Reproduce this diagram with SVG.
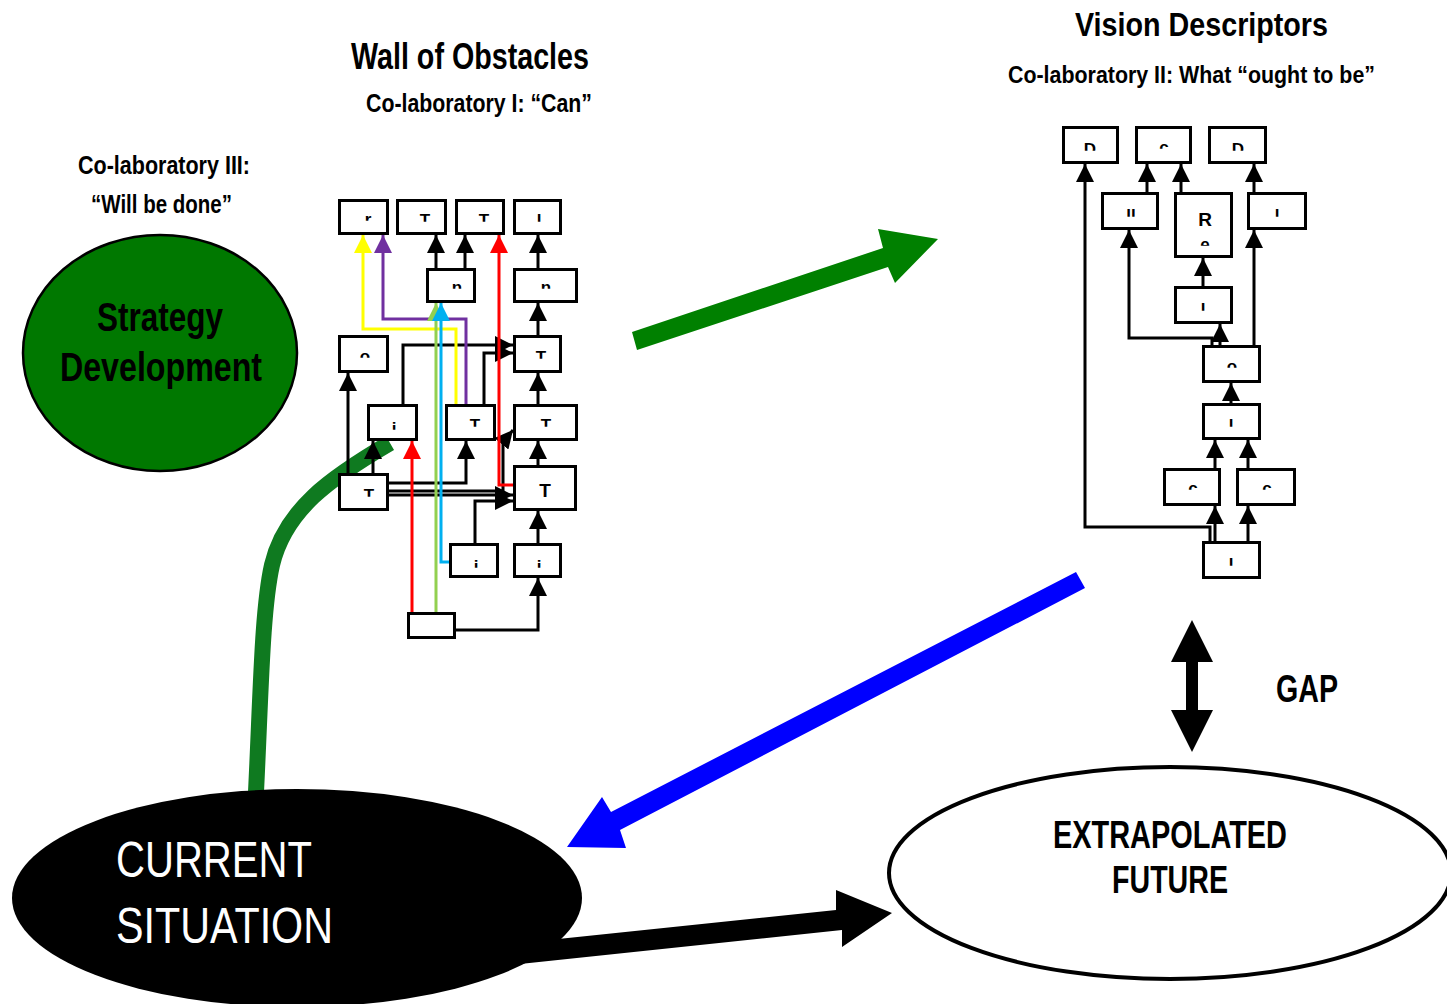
<svg xmlns="http://www.w3.org/2000/svg" width="1447" height="1004" viewBox="0 0 1447 1004">
<style>
.box{fill:#fff;stroke:#000;stroke-width:3}
.e{fill:none;stroke:#000;stroke-width:3;marker-end:url(#ak)}
.mk{font-family:"Liberation Sans",Arial,sans-serif;font-weight:bold;font-size:17px;text-anchor:middle;fill:#000;clip-path:url(#top)}
.t{font-family:"Liberation Sans",Arial,sans-serif;font-weight:bold;fill:#000}
.tn{font-family:"Liberation Sans",Arial,sans-serif;font-weight:normal}
</style>
<defs>
<clipPath id="top" clipPathUnits="objectBoundingBox"><rect x="-0.3" y="0" width="1.6" height="0.56"/></clipPath>
<marker id="ak" viewBox="0 0 18 18" refX="18" refY="9" markerWidth="18" markerHeight="18" markerUnits="userSpaceOnUse" orient="auto"><path d="M0,0 L18,9 L0,18 z" fill="#000"/></marker>
<marker id="ay" viewBox="0 0 18 18" refX="18" refY="9" markerWidth="18" markerHeight="18" markerUnits="userSpaceOnUse" orient="auto"><path d="M0,0 L18,9 L0,18 z" fill="#ffff00"/></marker>
<marker id="ap" viewBox="0 0 18 18" refX="18" refY="9" markerWidth="18" markerHeight="18" markerUnits="userSpaceOnUse" orient="auto"><path d="M0,0 L18,9 L0,18 z" fill="#7030a0"/></marker>
<marker id="ar" viewBox="0 0 18 18" refX="18" refY="9" markerWidth="18" markerHeight="18" markerUnits="userSpaceOnUse" orient="auto"><path d="M0,0 L18,9 L0,18 z" fill="#ff0000"/></marker>
<marker id="ac" viewBox="0 0 18 18" refX="18" refY="9" markerWidth="18" markerHeight="18" markerUnits="userSpaceOnUse" orient="auto"><path d="M0,0 L18,9 L0,18 z" fill="#00b0f0"/></marker>
<marker id="ag" viewBox="0 0 18 18" refX="18" refY="9" markerWidth="18" markerHeight="18" markerUnits="userSpaceOnUse" orient="auto"><path d="M0,0 L18,9 L0,18 z" fill="#92d050"/></marker>
</defs>
<rect width="1447" height="1004" fill="#fff"/>

<!-- titles -->
<g id="titles">
<text class="t" x="351" y="69" font-size="36" textLength="238" lengthAdjust="spacingAndGlyphs">Wall of Obstacles</text>
<text class="t" x="366" y="112" font-size="25" textLength="226" lengthAdjust="spacingAndGlyphs">Co-laboratory I: “Can”</text>
<text class="t" x="78" y="174" font-size="26" textLength="172" lengthAdjust="spacingAndGlyphs">Co-laboratory III:</text>
<text class="t" x="91" y="213" font-size="26" textLength="141" lengthAdjust="spacingAndGlyphs">“Will be done”</text>
<text class="t" x="1075" y="36" font-size="34" textLength="253" lengthAdjust="spacingAndGlyphs">Vision Descriptors</text>
<text class="t" x="1008" y="83" font-size="24" textLength="367" lengthAdjust="spacingAndGlyphs">Co-laboratory II: What “ought to be”</text>
</g>

<!-- big connectors -->
<g id="big-connectors">
<path id="green-curve" d="M256 792 C261 690 262 610 272 565 C285 510 330 478 390 443" fill="none" stroke="#0f7a20" stroke-width="16"/>
<polygon id="green-arrow" points="632,332 883,248 878,229 938,239 895,283 888,267 637,350" fill="#008000"/>
<polygon id="blue-arrow" points="1076,572 1085,588 620,830 626,848 567,847 602,797 611,812" fill="#0000ff"/>
<polygon id="gap-arrow" points="1192,620 1213,662 1198,662 1198,710 1213,710 1192,752 1171,710 1186,710 1186,662 1171,662" fill="#000"/>
</g>

<!-- Strategy Development -->
<g id="strategy">
<ellipse cx="160" cy="353" rx="137" ry="118" fill="#007800" stroke="#000" stroke-width="2.5"/>
<text class="t" x="97" y="331" font-size="40" textLength="126" lengthAdjust="spacingAndGlyphs">Strategy</text>
<text class="t" x="60" y="381" font-size="40" textLength="202" lengthAdjust="spacingAndGlyphs">Development</text>
</g>

<!-- Current situation -->
<g id="current">
<ellipse cx="297" cy="898" rx="285" ry="109" fill="#000"/>
<text class="tn" x="116" y="877" font-size="50" fill="#fff" textLength="196" lengthAdjust="spacingAndGlyphs">CURRENT</text>
<text class="tn" x="116" y="943" font-size="50" fill="#fff" textLength="217" lengthAdjust="spacingAndGlyphs">SITUATION</text>
</g>

<!-- Extrapolated future -->
<g id="future">
<ellipse cx="1170" cy="873" rx="281" ry="106" fill="#fff" stroke="#000" stroke-width="4"/>
<text class="t" x="1053" y="848" font-size="39" textLength="234" lengthAdjust="spacingAndGlyphs">EXTRAPOLATED</text>
<text class="t" x="1112" y="893" font-size="39" textLength="116" lengthAdjust="spacingAndGlyphs">FUTURE</text>
</g>

<polygon id="black-arrow" points="520,943 836,910 836,890 892,913 842,947 842,930 520,964" fill="#000"/>

<g id="gap">
<text class="t" x="1276" y="702" font-size="38" textLength="62" lengthAdjust="spacingAndGlyphs">GAP</text>
</g>

<!-- Wall of obstacles connectors -->
<g id="wall-connectors">
<path class="e" d="M436 268 L436 235"/>
<path class="e" d="M465 268 L465 235"/>
<path class="e" d="M538 268 L538 235"/>
<path class="e" d="M538 335 L538 303"/>
<path class="e" d="M538 404 L538 373"/>
<path class="e" d="M538 465 L538 441"/>
<path class="e" d="M538 543 L538 511"/>
<path class="e" d="M456 630 L538 630 L538 578"/>
<path class="e" d="M403 404 L403 345 L513 345"/>
<path class="e" d="M484 404 L484 353 L513 353"/>
<path class="e" d="M348 473 L348 373"/>
<path class="e" d="M373 473 L373 441"/>
<path class="e" d="M389 483 L466 483 L466 441"/>
<path class="e" d="M389 491 L503 491 L503 442 L513 430"/>
<path class="e" d="M389 495 L513 495"/>
<path class="e" d="M475 543 L475 501 L513 501"/>
<path d="M456 404 L456 329 L363 329 L363 235" fill="none" stroke="#ffff00" stroke-width="3" marker-end="url(#ay)"/>
<path d="M466 404 L466 319 L383 319 L383 235" fill="none" stroke="#7030a0" stroke-width="3" marker-end="url(#ap)"/>
<path d="M513 485 L499 485 L499 235" fill="none" stroke="#ff0000" stroke-width="3" marker-end="url(#ar)"/>
<path d="M412 612 L412 441" fill="none" stroke="#ff0000" stroke-width="3" marker-end="url(#ar)"/>
<path d="M436 612 L436 303" fill="none" stroke="#92d050" stroke-width="3" marker-end="url(#ag)"/>
<path d="M449 562 L441 562 L441 303" fill="none" stroke="#00b0f0" stroke-width="3" marker-end="url(#ac)"/>
</g>

<!-- Wall of obstacles nodes -->
<g id="w-a"><rect class="box" x="339.5" y="200.5" width="48" height="33"/><text class="mk" x="368" y="225">r</text></g>
<g id="w-b"><rect class="box" x="397.5" y="200.5" width="48" height="33"/><text class="mk" x="425" y="226">T</text></g>
<g id="w-c"><rect class="box" x="456.5" y="200.5" width="47" height="33"/><text class="mk" x="484" y="226">T</text></g>
<g id="w-d"><rect class="box" x="514.5" y="200.5" width="46" height="33"/><text class="mk" x="539" y="226">l</text></g>
<g id="w-e"><rect class="box" x="427.5" y="269.5" width="47" height="32"/><text class="mk" x="457" y="293">n</text></g>
<g id="w-f"><rect class="box" x="514.5" y="269.5" width="62" height="32"/><text class="mk" x="546" y="293">n</text></g>
<g id="w-g"><rect class="box" x="339.5" y="336.5" width="48" height="35"/><text class="mk" x="365" y="362">o</text></g>
<g id="w-h"><rect class="box" x="514.5" y="336.5" width="46" height="35"/><text class="mk" x="541" y="363">T</text></g>
<g id="w-i"><rect class="box" x="368.5" y="405.5" width="48" height="34"/><text class="mk" x="394" y="434">i</text></g>
<g id="w-j"><rect class="box" x="446.5" y="405.5" width="48" height="34"/><text class="mk" x="475" y="431">T</text></g>
<g id="w-k"><rect class="box" x="514.5" y="405.5" width="62" height="34"/><text class="mk" x="546" y="431">T</text></g>
<g id="w-l"><rect class="box" x="339.5" y="474.5" width="48" height="35"/><text class="mk" x="369" y="501">T</text></g>
<g id="w-m"><rect class="box" x="514.5" y="466.5" width="61" height="43"/><text class="t" x="545" y="497" font-size="19" text-anchor="middle">T</text></g>
<g id="w-n"><rect class="box" x="450.5" y="544.5" width="47" height="32"/><text class="mk" x="476" y="572">i</text></g>
<g id="w-o"><rect class="box" x="514.5" y="544.5" width="46" height="32"/><text class="mk" x="539" y="572">i</text></g>
<g id="w-p"><rect class="box" x="408.5" y="613.5" width="46" height="24"/></g>

<!-- Vision descriptors connectors -->
<g id="vision-connectors">
<path class="e" d="M1147 192 L1147 164"/>
<path class="e" d="M1181 192 L1181 164"/>
<path class="e" d="M1254 192 L1254 164"/>
<path class="e" d="M1203 286 L1203 258"/>
<path class="e" d="M1220 345 L1220 324"/>
<path class="e" d="M1212 345 L1212 338 L1129 338 L1129 230"/>
<path class="e" d="M1254 345 L1254 230"/>
<path class="e" d="M1231 403 L1231 383"/>
<path class="e" d="M1215 468 L1215 440"/>
<path class="e" d="M1248 468 L1248 440"/>
<path class="e" d="M1215 541 L1215 506"/>
<path class="e" d="M1248 541 L1248 506"/>
<path class="e" d="M1210 541 L1210 527 L1085 527 L1085 164"/>
</g>

<!-- Vision descriptors nodes -->
<g id="v-1"><rect class="box" x="1063.5" y="127.5" width="54" height="35"/><text class="mk" x="1090" y="155">D</text></g>
<g id="v-2"><rect class="box" x="1136.5" y="127.5" width="54" height="35"/><text class="mk" x="1164" y="153">c</text></g>
<g id="v-3"><rect class="box" x="1209.5" y="127.5" width="56" height="35"/><text class="mk" x="1238" y="155">D</text></g>
<g id="v-4"><rect class="box" x="1102.5" y="193.5" width="55" height="35"/><text class="mk" x="1131" y="221">ll</text></g>
<g id="v-5"><rect class="box" x="1175.5" y="193.5" width="56" height="63"/><text class="t" x="1205" y="226" font-size="19" text-anchor="middle">R</text><text class="mk" x="1205" y="250">e</text></g>
<g id="v-6"><rect class="box" x="1248.5" y="193.5" width="57" height="35"/><text class="mk" x="1277" y="221">l</text></g>
<g id="v-7"><rect class="box" x="1175.5" y="287.5" width="56" height="35"/><text class="mk" x="1203" y="315">l</text></g>
<g id="v-8"><rect class="box" x="1203.5" y="346.5" width="56" height="35"/><text class="mk" x="1232" y="372">o</text></g>
<g id="v-9"><rect class="box" x="1203.5" y="404.5" width="56" height="34"/><text class="mk" x="1231" y="431">l</text></g>
<g id="v-10"><rect class="box" x="1164.5" y="469.5" width="55" height="35"/><text class="mk" x="1193" y="494">c</text></g>
<g id="v-11"><rect class="box" x="1237.5" y="469.5" width="57" height="35"/><text class="mk" x="1267" y="494">c</text></g>
<g id="v-12"><rect class="box" x="1203.5" y="542.5" width="56" height="35"/><text class="mk" x="1231" y="570">l</text></g>
</svg>
